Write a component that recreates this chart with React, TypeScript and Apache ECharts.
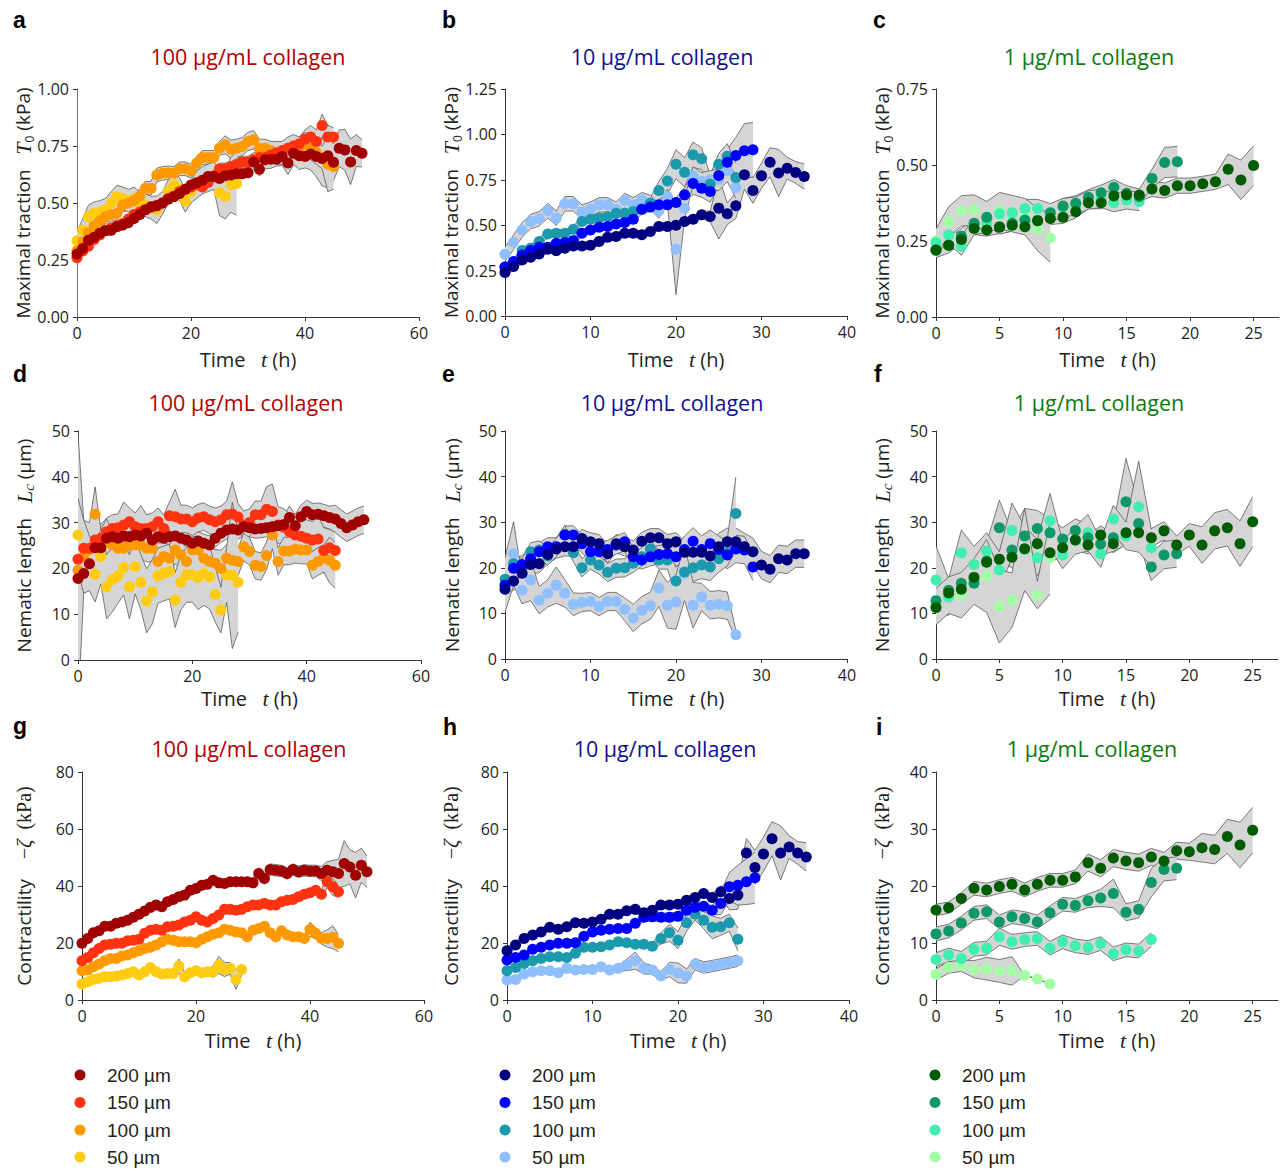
import React, { useEffect, useRef } from "react";
import * as echarts from "echarts";

// ---------------- data (time step 1 h, starting at t = 0) ----------------
// Panel a: maximal traction T0 (kPa), 100 ug/mL
const A200 = [0.276,0.30,0.337,0.35,0.367,0.378,0.38,0.396,0.403,0.413,0.432,0.45,0.47,0.484,0.488,0.50,0.516,0.528,0.542,0.56,0.579,0.589,0.60,0.616,0.616,0.608,0.62,0.623,0.628,0.628,0.633,0.68,0.648,0.69,0.692,0.692,0.704,0.675,0.718,0.707,0.704,0.715,0.704,0.695,0.707,0.679,0.74,0.733,0.68,0.73,0.718];
const A200E = [0.02,0.02,0.02,0.02,0.02,0.02,0.02,0.02,0.02,0.02,0.02,0.02,0.02,0.02,0.02,0.02,0.02,0.02,0.02,0.02,0.02,0.02,0.02,0.02,0.02,0.02,0.02,0.02,0.02,0.02,0.02,0.03,0.03,0.04,0.04,0.03,0.04,0.05,0.05,0.06,0.05,0.07,0.09,0.12,0.14,0.08,0.08,0.09,0.1,0.07,0.06];
const A150 = [0.26,0.29,0.31,0.34,0.36,0.38,0.39,0.40,0.41,0.43,0.45,0.46,0.47,0.48,0.49,0.50,0.52,0.53,0.55,0.56,0.57,0.58,0.57,0.59,0.62,0.65,0.65,0.66,0.67,0.68,0.68,0.69,0.70,0.70,0.71,0.72,0.73,0.74,0.75,0.76,0.78,0.79,0.77,0.84,0.79,0.79];
const A150E = [0.02,0.02,0.02,0.02,0.02,0.02,0.02,0.02,0.02,0.02,0.02,0.02,0.02,0.02,0.02,0.02,0.02,0.02,0.02,0.02,0.02,0.025,0.025,0.025,0.025,0.025,0.025,0.025,0.025,0.025,0.025,0.03,0.03,0.03,0.03,0.03,0.03,0.03,0.03,0.03,0.04,0.05,0.05,0.05,0.05,0.04];
const A100 = [0.29,0.33,0.37,0.40,0.42,0.44,0.45,0.455,0.49,0.50,0.51,0.53,0.565,0.565,0.623,0.63,0.632,0.63,0.65,0.65,0.64,0.675,0.70,0.70,0.70,0.74,0.755,0.736,0.74,0.748,0.77,0.777,0.74,0.74,0.73,0.72,0.72,0.74,0.75,0.74,0.76,0.74,0.72,0.70,0.67,0.66];
const A100E = [0.03,0.03,0.03,0.03,0.03,0.03,0.03,0.03,0.03,0.03,0.03,0.03,0.03,0.03,0.03,0.03,0.03,0.03,0.03,0.03,0.03,0.03,0.03,0.03,0.03,0.03,0.04,0.04,0.04,0.04,0.04,0.04,0.04,0.04,0.04,0.05,0.05,0.05,0.05,0.05,0.05,0.05,0.05,0.05,0.12,0.1];
const A50 = [0.334,0.38,0.44,0.455,0.46,0.47,0.50,0.528,0.52,0.51,0.52,0.50,0.49,0.48,0.47,0.50,0.55,0.58,0.56,0.51,0.55,0.58,0.60,0.61,0.62,0.545,0.53,0.58,0.586];
const A50E = [0.04,0.05,0.05,0.05,0.05,0.05,0.05,0.05,0.05,0.05,0.05,0.05,0.05,0.05,0.06,0.05,0.05,0.05,0.05,0.05,0.05,0.06,0.06,0.06,0.06,0.1,0.1,0.12,0.14];

// Panel b: 10 ug/mL
const B200 = [0.239,0.272,0.309,0.324,0.342,0.368,0.36,0.373,0.386,0.386,0.39,0.41,0.434,0.4375,0.456,0.456,0.447,0.465,0.493,0.493,0.50,0.52,0.533,0.557,0.548,0.594,0.5625,0.607,0.778,0.691,0.772,0.847,0.787,0.814,0.79,0.768];
const B200E = [0.02,0.02,0.02,0.02,0.02,0.02,0.02,0.02,0.02,0.02,0.02,0.02,0.02,0.02,0.02,0.02,0.02,0.02,0.02,0.02,0.02,0.02,0.02,0.02,0.03,0.17,0.06,0.07,0.08,0.07,0.07,0.08,0.13,0.06,0.06,0.07];
const B150 = [0.27,0.30,0.336,0.36,0.379,0.379,0.40,0.404,0.415,0.456,0.474,0.489,0.493,0.507,0.515,0.533,0.588,0.60,0.612,0.612,0.625,0.667,0.73,0.704,0.686,0.774,0.847,0.884,0.91,0.915];
const B150E = [0.02,0.02,0.02,0.02,0.02,0.02,0.02,0.02,0.02,0.02,0.02,0.02,0.02,0.02,0.02,0.02,0.025,0.025,0.025,0.025,0.025,0.04,0.06,0.05,0.06,0.06,0.07,0.1,0.15,0.15];
const B100 = [0.27,0.29,0.36,0.373,0.41,0.452,0.456,0.456,0.478,0.52,0.533,0.539,0.548,0.566,0.566,0.575,0.588,0.621,0.691,0.744,0.836,0.792,0.888,0.866,0.726,0.836,0.879,0.763];
const B100E = [0.02,0.02,0.02,0.02,0.02,0.02,0.02,0.02,0.02,0.02,0.02,0.02,0.02,0.02,0.02,0.02,0.02,0.03,0.05,0.07,0.08,0.08,0.07,0.06,0.05,0.06,0.07,0.08];
const B50 = [0.34,0.406,0.474,0.52,0.535,0.58,0.539,0.618,0.618,0.572,0.588,0.612,0.612,0.588,0.636,0.612,0.64,0.625,0.579,0.658,0.368,0.594,0.772,0.74,0.75,0.75,0.80,0.708];
const B50E = [0.04,0.04,0.04,0.04,0.04,0.04,0.04,0.04,0.04,0.04,0.04,0.04,0.04,0.04,0.04,0.04,0.04,0.04,0.04,0.04,0.25,0.06,0.05,0.05,0.05,0.06,0.06,0.06];

// Panel c: 1 ug/mL
const C200 = [0.22,0.236,0.255,0.291,0.286,0.295,0.302,0.297,0.317,0.324,0.328,0.346,0.376,0.376,0.398,0.401,0.401,0.421,0.416,0.432,0.432,0.438,0.445,0.486,0.451,0.498];
const C200E = [0.02,0.02,0.02,0.02,0.02,0.02,0.02,0.02,0.02,0.02,0.02,0.02,0.02,0.02,0.02,0.02,0.02,0.025,0.025,0.025,0.025,0.025,0.025,0.05,0.065,0.065];
const C150 = [0.22,0.236,0.266,0.308,0.328,0.297,0.308,0.319,0.317,0.343,0.365,0.374,0.394,0.409,0.427,0.407,0.396,0.456,0.508,0.511];
const C150E = [0.025,0.025,0.025,0.025,0.025,0.025,0.025,0.025,0.025,0.025,0.025,0.025,0.025,0.025,0.025,0.025,0.025,0.03,0.05,0.05];
const C100 = [0.245,0.27,0.233,0.30,0.31,0.34,0.343,0.357,0.357,0.343,0.36,0.365,0.385,0.39,0.376,0.385,0.38];
const C100E = [0.03,0.03,0.03,0.03,0.03,0.03,0.03,0.03,0.03,0.03,0.03,0.03,0.03,0.03,0.03,0.03,0.03];
const C50 = [0.25,0.313,0.349,0.352,0.33,0.35,0.34,0.33,0.288,0.26];
const C50E = [0.04,0.05,0.05,0.05,0.05,0.06,0.06,0.06,0.07,0.08];

// Panel d: nematic length Lc (um), 100 ug/mL
const D200 = [17.8,18.9,21,24.5,24.5,26.6,26.9,26.6,27.1,26.9,27.3,27.1,27.7,26.2,26.9,26.6,26.9,27.1,26.6,26.2,25.5,26,25.5,25.1,26.6,27.7,28.4,28.6,28.4,29.1,28.9,28.6,28.7,28.9,29.1,29.3,29.6,31.1,29.3,31.3,32.4,31.7,31.8,31.5,31.1,30.8,29.8,28.9,29.5,30.2,30.6];
const D200E = [3,3,3,2,2,2,2,2,2,2,2,2,2,2,2,2,2,2,2,2,2,2,2,2,2,2,2,2,2,2,2,2,2,2,2,2,2,2.5,2.5,2.5,2.5,2.5,2.5,2.5,2.5,3,3,3,3,3,3];
const D150 = [22,24.4,24.4,26.2,26.6,28,28.7,28.9,29.5,30.2,29.1,28.7,28.7,29.1,30.2,28.7,31.5,31.3,30.8,30.8,30.2,31,31.3,30.6,30.2,30.6,31.7,31.9,31.2,29.5,30,31.7,31.7,32.9,32.4,29.5,29,28,27.3,27,26.6,26.2,26.4,23.9,24.5,23.9];
const D150E = [3,3,3,5,3,3,3,3,5,3,3,5,3,3,3,3,3,6,3,3,3,3,3,3,3,3,3,7,3,3,3,3,3,5,6,4,4,4,4,4,4,4,5,5,4,4];
const D100 = [19.6,22.5,24,31.8,25.5,25.8,25.1,24.4,24.4,25.1,25.1,25.1,24.4,24.4,21.5,22.6,22.2,24,22.9,21.5,24,24,22.2,21.5,21.1,20,22.2,21.8,21.5,24.7,23.7,20.7,20.4,22.8,27.3,21.5,23.8,23.8,24.2,24,24,20.7,21.5,22.2,21.8,20.7];
const D100E = [30,8,6,6,3,5,3,3,3,3,3,3,3,3,4,3,3,3,3,3,3,3,3,3,3,4,3,3,3,3,3,3,3,3,3,3,3,3,3,3,3,3,3,3,5,5];
const D50 = [27.3,22.6,21.1,18.7,22.6,16,17.5,18.4,20.2,16,20.4,17,12.9,14.9,18.4,18.9,19.3,13.1,17,18.6,18.6,18,18.9,18.2,14.3,10.9,18.6,18.5,17];
const D50E = [8,8,6,6,6,7,7,6,6,7,6,6,7,7,6,6,6,6,6,6,6,7,7,7,6,5,6,16,11];

// Panel e: 10 ug/mL
const E200 = [15.3,17.1,18.8,20.7,20.9,22.9,24.1,24.6,24.6,26.4,25.7,25.3,23.1,25.3,24.6,23.9,25.8,26.6,26.6,25.3,25.7,23.4,23.4,23.4,22.6,24.6,25.7,25.7,24.6,23.5,20.6,19.7,22,21.7,23.1,23.1];
const E200E = [1.5,2,2,2,2,2,2,2,2,2,2,2,2,2,2,2,2,2,2,2,2,2.5,2.5,2.5,2.5,3,3,3,3,3,3,3,3,3,3,3];
const E150 = [16.2,19.9,20.7,22,23.5,24.6,24.6,27.2,27.2,25.3,23.5,23.5,24,25,25.7,22.4,21.7,22.4,22.9,23.1,22.4,24,25.8,24,25.3,24,22.8,24.1,23.9,20.2];
const E150E = [2,2,2,2,2,2,2,2,2,2,2,2,2,2,2,2,2,2,2,2,2,3,3,3,3,3,3,3,3,3];
const E100 = [17.5,20.9,20,23.5,23.9,22.6,24.4,27.3,23.3,20,21.7,20.6,19,19.9,20,21,22.4,24.1,21.7,21.7,17.1,19.1,20,20.6,20.2,22,23.4,31.9];
const E100E = [2,2,2,2,2,2,2,2,2,2,2,2,2,2,2,2,2,2,2,2,3,3,3,3,3,3,3,8];
const E50 = [16.2,23.1,15.1,17.3,12.9,14.4,16.2,14.4,12,12.4,12.6,11.5,12.6,12.6,10.9,9,10.7,11.7,15.5,11.8,12.5,18.8,11.8,13.6,11.8,12,11.7,5.3];
const E50E = [6,7,3,4.5,3,3,4,3,2.5,2,2,2,2,2,2.5,3,3,3,4,5,6,6,5,3,3,3,3,1];

// Panel f: 1 ug/mL
const F200 = [11.3,14.5,15.3,17.9,21.2,21.9,22.3,24.2,25.3,23.3,24.4,26.1,25,27.2,25.3,27.7,27.7,26.6,28.1,25,27.2,25,28.1,28.8,25.3,30.1];
const F200E = [2,2,2,2,2,2,2,2,2,2,2,2,2,2,2,2.5,2.5,2,2,2,2.5,4,4,4,5,5.5];
const F150 = [12.8,15.1,16.6,16.6,21.5,28.8,23.9,27,28.6,27.7,26.3,28.2,26.6,25.2,26.6,34.5,29.7,20.2,22.8,23.1];
const F150E = [2,2,2,3,4,6,4,6,4,3,2.5,2.5,3,2.5,3,9.5,4,3,3,3];
const F100 = [17.3,13.6,23.3,20.7,23.7,19.5,28.2,24,22.2,30.3,22.8,26,27.7,23.1,30.7,27,33.4,24.4];
const F100E = [7.5,4,5,4,4,4,6,5,4,6,3,3,4,3,3,3,10,4];
const F50 = [11.5,14,14,17,18.2,11.5,12.9,24,14,22.2];
const F50E = [4,4,5,5,8,8,6,9,3,8];

// Panel g: contractility -zeta (kPa), 100 ug/mL
const G200 = [19.9,21.6,23.6,24.3,25.9,25.9,26.9,27.4,28,29,30.1,31.2,32.5,33.3,32.7,34.5,35.3,36.2,36.8,38.5,39.1,40.3,40.6,42,41.1,40.9,41.5,41.5,41.5,41.5,41.1,44.4,42.6,45.8,45.5,45.3,44.4,45.8,45,45.5,45.3,45.3,44.4,45.5,45,44.4,47.9,46.7,43.8,47.3,45];
const G200E = [1,1,1,1,1,1,1,1,1,1,1,1,1,1,1,1,1,1,1,1,1,1,1,1,1,1,1,1,1,1,1.5,2,2,2,2,2,2,2,2,2,2,2,2.5,3,4,5,8,6,8,6,5.5];
const G150 = [13.8,14.9,16.6,18.1,19.3,19.6,19.9,19.9,20.8,21,21.3,23.4,24.5,24.8,24.5,25.7,25.9,26.3,27.4,28,29.2,28,27.4,28.6,29.8,31.8,31.8,31.5,31.8,32.7,33.3,33.3,33.9,33.3,33.3,34.5,35,35.3,36.2,37.1,37.6,38.5,37.1,41.5,39.7,38];
const G150E = [0.8,0.8,0.8,0.8,0.8,0.8,0.8,0.8,0.8,0.8,0.8,0.8,0.8,0.8,0.8,0.8,0.8,0.8,0.8,0.8,0.8,0.8,0.8,0.8,0.8,0.8,0.8,0.8,0.8,0.8,0.8,0.8,0.8,0.8,0.8,0.8,1,1,1,1,1,1.2,1.5,2,3,2];
const G100 = [10.3,10.5,11.7,12.6,13.8,14.6,14.6,15.4,15.8,16.6,17.3,18.1,18.5,19.3,20.4,21.3,21,20.4,20.4,20.4,20.1,21.3,22.2,23.1,23.6,24.8,24.5,23.9,23.6,22.2,24.5,25.1,25.9,23.6,22.2,24.3,22.8,22.2,22.2,21.6,24.8,23.4,21.6,21.6,22,19.9];
const G100E = [0.8,0.8,0.8,0.8,0.8,0.8,0.8,0.8,0.8,0.8,0.8,0.8,0.8,0.8,0.8,0.8,0.8,0.8,0.8,0.8,0.8,0.8,0.8,0.8,0.8,0.8,0.8,0.8,0.8,1.2,1.2,1.2,1.2,1.2,1.2,1.2,1.2,1.2,1.2,1.2,2.5,2,2,3,4,3];
const G50 = [5.6,6.4,7.2,7.6,8.2,8.2,8.4,8.8,9.3,9.9,8.8,9.9,11.4,9.9,9.1,9.3,9.3,11.9,8.2,9.6,10.3,9.6,9.9,9.9,12.3,10.7,11.1,7.2,10.7];
const G50E = [0.7,0.7,0.7,0.7,0.7,0.7,0.7,0.7,0.7,0.7,0.7,0.7,0.8,0.7,0.7,0.8,1.5,2.5,1.5,1,0.8,0.8,1,2,3,2.5,2,3.5,2];

// Panel h: 10 ug/mL
const H200 = [17.3,19.3,21.6,22.8,23.9,25.5,24.8,25.7,27.1,26.9,27.4,28.3,30.1,30.1,31.3,31.8,30.6,31.5,33.3,33.3,33.6,35,36,37.4,36,38,35.6,36.8,51.6,46.5,51.2,56.6,51.6,53.7,51.6,50.2];
const H200E = [1.2,1.2,1.2,1.2,1.2,1.2,1.2,1.2,1.2,1.2,1.2,1.2,1.2,1.2,1.2,1.2,1.2,1.2,1.2,1.2,1.2,1.2,1.2,1.2,1.2,2,4,5,5,6,6,6,9.5,4,4,5];
const H150 = [14,14.9,15.8,17.8,18.5,19.3,19.9,19.9,20.1,22.4,23.9,24.5,24.8,25.1,25.1,26.9,29,29.2,29,29,29.4,31.5,32.5,32.9,31.5,33.9,39.7,40.3,41.5,42.9];
const H150E = [1,1,1,1,1,1,1,1,1,1,1,1,1,1,1,1,1.5,1.5,1.5,1.5,1.5,1.5,1.5,1.5,1.5,4,5,7,8,9];
const H100 = [10.3,11.4,12.8,13.8,14.6,15.2,15.2,14.9,16.4,18.5,18.5,18.7,19.3,20.4,20.1,19.6,19.6,18.9,21.6,23.6,21,27.1,30.1,28,25.5,25.7,27.1,21.3];
const H100E = [1,1,1,1,1,1,1,1,1,1,1,1,1,1,1,1,1,1,2,3,3,3,2,3,4,3,3,4];
const H50 = [7,7.2,9.1,9.9,10.3,10.3,9.6,11.1,10.5,10.7,10.7,11.7,10.5,11.1,12.3,13.8,11.1,10.5,8.4,10.7,9.5,8.4,12.6,11.4,11.9,12.5,13.1,13.8];
const H50E = [1,1,1,1,1,1,1,1,1,1,1,1,1,1,2,3,2,1.5,1.5,2.5,3.5,2.5,2,2,2,2,2,2];

// Panel i: 1 ug/mL
const I200 = [15.8,16.2,17.8,19.6,19.3,19.9,20.3,19.3,20.3,21,21,21.6,24.1,23.1,24.9,24.4,24.1,25.1,24.4,26.2,26,26.7,26.4,28.7,27.2,29.8];
const I200E = [1,1,1,1.2,1.2,1.2,1.2,1.2,1.2,1.2,1.2,1.2,1.5,1.5,1.5,1.5,1.5,1.5,1.5,1.5,1.5,2.5,2.5,3,4,4];
const I150 = [11.6,12.1,13.5,15.2,15.5,13.7,14.6,14.3,13.7,15.3,16.8,16.6,17.4,17.9,18.7,15.4,15.9,20.6,22.9,23.1];
const I150E = [1.2,1.2,1.2,1.2,1.2,1.2,1.2,1.2,1.2,1.2,1.2,1.2,1.2,1.5,2.5,1.5,1.5,2.5,2,2];
const I100 = [7.1,7.9,7.3,8.9,9.1,11.1,10.2,10.6,10.8,9.1,10.2,9.5,9.2,9.9,8.1,8.8,8.6,10.6];
const I100E = [1.2,1.2,1.2,1.2,1.2,1.5,1.3,1.2,1.2,1.2,1.2,1.2,1.2,1.2,1.2,1.2,1.2,1.2];
const I50 = [4.5,5.7,6,5.4,5.5,5.1,5.1,4.3,3.7,2.8];
const I50E = [1,1,1,1.5,2,2,2.5,0,0,0];

// labels
const SIZE_LABELS = ["200 µm", "150 µm", "100 µm", "50 µm"];
const TITLES = ["100 µg/mL collagen", "10 µg/mL collagen", "1 µg/mL collagen"];
const LETTERS = ["a", "b", "c", "d", "e", "f", "g", "h", "i"];
const X_TICKS_SHORT = [0, 5, 10, 15, 20, 25];

// ---------------- styles ----------------
const COLORS = [
  ["#a00000", "#ff3311", "#ff9900", "#ffcc11"],
  ["#000080", "#0000ff", "#1a9aac", "#8fbfff"],
  ["#005c00", "#0e9866", "#40eeb0", "#a3ffa3"],
];
const TITLE_COLORS = ["#b00000", "#10108f", "#0b7a0b"];
const FONT = "Open Sans";
const SERIF = "Liberation Serif";
const TXT = "#231f20";
const AXIS = "#333333";

const GRIDS = [
  { left: 77, top: 89, width: 342, height: 228 },
  { left: 505, top: 89, width: 342, height: 227 },
  { left: 936, top: 89, width: 343, height: 228 },
  { left: 78, top: 431, width: 343, height: 229 },
  { left: 505, top: 431, width: 342, height: 228 },
  { left: 936, top: 431, width: 342, height: 228 },
  { left: 82, top: 772, width: 342, height: 228 },
  { left: 507, top: 772, width: 342, height: 228 },
  { left: 936, top: 772, width: 342, height: 228 },
];

const PANEL_DATA = [
  [[A200, A200E], [A150, A150E], [A100, A100E], [A50, A50E]],
  [[B200, B200E], [B150, B150E], [B100, B100E], [B50, B50E]],
  [[C200, C200E], [C150, C150E], [C100, C100E], [C50, C50E]],
  [[D200, D200E], [D150, D150E], [D100, D100E], [D50, D50E]],
  [[E200, E200E], [E150, E150E], [E100, E100E], [E50, E50E]],
  [[F200, F200E], [F150, F150E], [F100, F100E], [F50, F50E]],
  [[G200, G200E], [G150, G150E], [G100, G100E], [G50, G50E]],
  [[H200, H200E], [H150, H150E], [H100, H100E], [H50, H50E]],
  [[I200, I200E], [I150, I150E], [I100, I100E], [I50, I50E]],
];

const X_CFG = [
  { max: 60, interval: 20 },
  { max: 40, interval: 10 },
  { max: 27, interval: 5, ticks: X_TICKS_SHORT },
];
const Y_CFG = [
  { max: 1, interval: 0.25, dec: 2 },
  { max: 1.25, interval: 0.25, dec: 2 },
  { max: 0.75, interval: 0.25, dec: 2 },
  { max: 50, interval: 10, dec: 0 },
  { max: 50, interval: 10, dec: 0 },
  { max: 50, interval: 10, dec: 0 },
  { max: 80, interval: 20, dec: 0 },
  { max: 80, interval: 20, dec: 0 },
  { max: 40, interval: 10, dec: 0 },
];

const TITLE_POS = [
  [248, 56], [662, 56], [1089, 56],
  [246, 402], [672, 402], [1099, 402],
  [249, 748], [665, 748], [1092, 748],
];
const LETTER_POS = [
  [13, 20], [442, 20], [873, 20],
  [13, 374], [442, 374], [874, 374],
  [13, 726], [443, 727], [876, 727],
];
const YNAME_X = [23, 451, 882, 24, 452, 882, 24, 451, 882];
const XNAME_Y = [359, 359, 359, 698, 698, 698, 1040, 1040, 1040];
const LEGEND_X = [80, 505, 935];
const LEGEND_Y = [1075, 1102.5, 1130, 1157];

function yNameRich(row: number) {
  const s = { fontFamily: FONT, fontSize: 19, fill: TXT, lineHeight: 24 };
  const it = { fontFamily: SERIF, fontStyle: "italic", fontSize: 22, fill: TXT, lineHeight: 24 };
  const sub = { fontFamily: FONT, fontSize: 12, fill: TXT, verticalAlign: "bottom", lineHeight: 13 };
  const subi = { fontFamily: SERIF, fontStyle: "italic", fontSize: 15, fill: TXT, verticalAlign: "bottom", lineHeight: 14 };
  const m = { fontFamily: SERIF, fontSize: 20, fill: TXT, lineHeight: 24 };
  const mi = { fontFamily: SERIF, fontStyle: "italic", fontSize: 21, fill: TXT, lineHeight: 24 };
  if (row === 0) return { text: "{s|Maximal traction}{s|   }{it|T}{sub|0}{s| (kPa)}", rich: { s, it, sub } };
  if (row === 1) return { text: "{s|Nematic length}{s|   }{it|L}{subi|c}{s| (µm)}", rich: { s, it, subi } };
  return { text: "{s|Contractility}{s|    }{m|−}{mi|ζ}{m|  (kPa)}", rich: { s, m, mi } };
}

function buildOption() {
  const grid = GRIDS.map((g) => ({ ...g, containLabel: false }));
  const xAxis = GRIDS.map((_, i) => {
    const c = X_CFG[i % 3];
    const ax: any = {
      type: "value", gridIndex: i, min: 0, max: c.max, interval: c.interval,
      axisLine: { show: true, onZero: false, lineStyle: { color: AXIS, width: 1 } },
      axisTick: { show: true, inside: false, length: 4, lineStyle: { color: AXIS } },
      axisLabel: { show: true, fontSize: 16, lineHeight: 16, color: TXT, fontFamily: FONT, margin: 8 },
      splitLine: { show: false },
    };
    if (c.ticks) {
      ax.axisTick.customValues = c.ticks;
      ax.axisLabel.customValues = c.ticks;
    }
    return ax;
  });
  const yAxis = GRIDS.map((_, i) => {
    const c = Y_CFG[i];
    return {
      type: "value", gridIndex: i, min: 0, max: c.max, interval: c.interval,
      axisLine: { show: true, onZero: false, lineStyle: { color: i === 0 ? "#6f6f6f" : AXIS, width: 1 } },
      axisTick: { show: true, inside: false, length: 4, lineStyle: { color: AXIS } },
      axisLabel: { show: true, fontSize: 16, color: TXT, fontFamily: FONT, margin: 8, formatter: (v: number) => v.toFixed(c.dec) },
      splitLine: { show: false },
    };
  });

  const series: any[] = [];
  PANEL_DATA.forEach((pd, i) => {
    pd.forEach(([ys, es]) => {
      series.push({
        type: "custom", xAxisIndex: i, yAxisIndex: i, z: 2, silent: true, clip: true,
        data: [[0, 0]],
        renderItem: (_params: any, api: any) => {
          const up = ys.map((v: number, t: number) => api.coord([t, v + es[t]]));
          const lo = ys.map((v: number, t: number) => api.coord([t, v - es[t]]));
          return {
            type: "group",
            children: [
              { type: "polygon", shape: { points: up.concat(lo.slice().reverse()) }, style: { fill: "#d5d5d5", stroke: null, lineWidth: 0 } },
              { type: "polyline", shape: { points: up }, style: { stroke: "#5c5c5c", lineWidth: 0.8, fill: null } },
              { type: "polyline", shape: { points: lo }, style: { stroke: "#5c5c5c", lineWidth: 0.8, fill: null } },
            ],
          };
        },
      });
    });
  });
  PANEL_DATA.forEach((pd, i) => {
    const cols = COLORS[i % 3];
    for (let k = 3; k >= 0; k--) {
      const ys = pd[k][0];
      series.push({
        type: "scatter", xAxisIndex: i, yAxisIndex: i, z: 3, silent: true,
        symbol: "circle", symbolSize: 11,
        itemStyle: { color: cols[k], opacity: 1 },
        data: ys.map((v: number, t: number) => [t, v]),
      });
    }
  });

  const graphic: any[] = [];
  GRIDS.forEach((g, i) => {
    const row = Math.floor(i / 3);
    const col = i % 3;
    graphic.push({
      type: "text", x: LETTER_POS[i][0], y: LETTER_POS[i][1], silent: true,
      style: { text: LETTERS[i], fontFamily: "Liberation Sans", fontWeight: "bold", fontSize: 23, fill: "#000", align: "left", verticalAlign: "middle" },
    });
    graphic.push({
      type: "text", x: TITLE_POS[i][0], y: TITLE_POS[i][1], silent: true,
      style: { text: TITLES[col], fontFamily: FONT, fontSize: 21.5, fill: TITLE_COLORS[col], align: "center", verticalAlign: "middle" },
    });
    graphic.push({
      type: "text", x: g.left + g.width / 2, y: XNAME_Y[i], silent: true,
      style: {
        text: "{s|Time}{s|   }{it|t}{s| (h)}", align: "center", verticalAlign: "middle",
        rich: {
          s: { fontFamily: FONT, fontSize: 20, fill: TXT, lineHeight: 18 },
          it: { fontFamily: SERIF, fontStyle: "italic", fontSize: 22, fill: TXT, lineHeight: 18 },
        },
      },
    });
    const yn = yNameRich(row);
    graphic.push({
      type: "text", x: YNAME_X[i], y: g.top + g.height / 2, rotation: Math.PI / 2, silent: true,
      style: { text: yn.text, rich: yn.rich, align: "center", verticalAlign: "middle" },
    });
  });
  COLORS.forEach((cols, c) => {
    SIZE_LABELS.forEach((lab, k) => {
      graphic.push({ type: "circle", silent: true, shape: { cx: LEGEND_X[c], cy: LEGEND_Y[k], r: 5.5 }, style: { fill: cols[k] } });
      graphic.push({
        type: "text", x: LEGEND_X[c] + 27, y: LEGEND_Y[k], silent: true,
        style: { text: lab, fontFamily: "Liberation Sans", fontSize: 19, fill: TXT, align: "left", verticalAlign: "middle" },
      });
    });
  });

  return { animation: false, backgroundColor: "#ffffff", grid, xAxis, yAxis, series, graphic };
}

export default function App() {
  const ref = useRef<HTMLDivElement | null>(null);
  useEffect(() => {
    if (!ref.current) return;
    const chart = echarts.init(ref.current, null, { renderer: "svg" });
    chart.setOption(buildOption() as any);
    return () => chart.dispose();
  }, []);
  return <div ref={ref} style={{ position: "absolute", left: 0, top: 0, width: 1283, height: 1171, background: "#fff" }} />;
}
